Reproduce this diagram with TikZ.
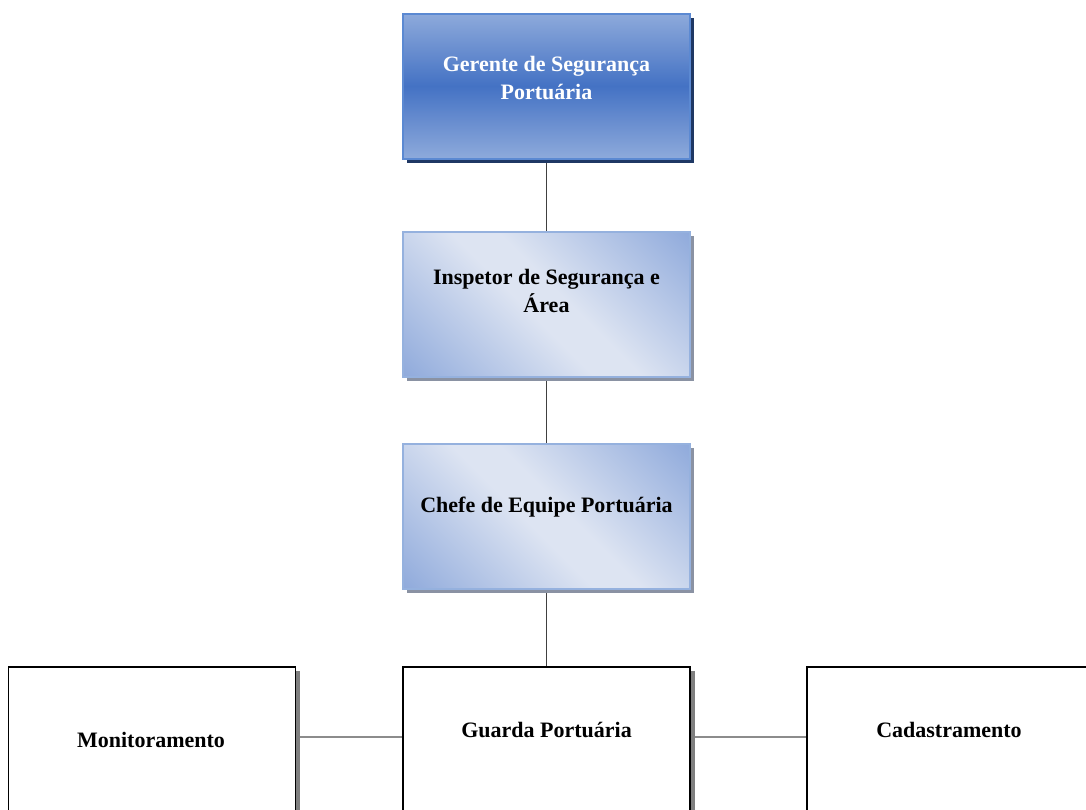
\documentclass[tikz,border=0pt]{standalone}
\usepackage{fontspec}
\setmainfont{Liberation Serif}
\usetikzlibrary{shadows,backgrounds}

\definecolor{hdTop}{HTML}{8EAADB}
\definecolor{hdMid}{HTML}{4472C4}
\definecolor{hdEdge}{HTML}{5B89D2}
\definecolor{hdShadow}{HTML}{1F3864}
\definecolor{lvDark}{HTML}{8EA9DB}
\definecolor{lvLight}{HTML}{DDE4F2}
\definecolor{lvEdge}{HTML}{95B1DE}
\definecolor{lvShadow}{HTML}{8A92A3}
\definecolor{plainShadow}{HTML}{7F7F7F}
\definecolor{linkDark}{HTML}{404040}
\definecolor{linkGray}{HTML}{8C8C8C}

% soft diagonal band: dark corners, light middle
\pgfdeclareverticalshading{levelshade}{100bp}{%
  color(0bp)=(lvDark); color(14bp)=(lvDark); color(46bp)=(lvLight);
  color(54bp)=(lvLight); color(86bp)=(lvDark); color(100bp)=(lvDark)}

\begin{document}
\begin{tikzpicture}[x=0.75pt,y=-0.75pt,
  boxbase/.style={rectangle, inner sep=0pt, minimum width=215.25pt, minimum height=108.75pt},
  headbox/.style={boxbase, draw=hdEdge, line width=1.5pt,
    top color=hdTop, bottom color=hdTop, middle color=hdMid,
    general shadow={fill=hdShadow, shadow xshift=3pt, shadow yshift=-3pt}},
  levelbox/.style={boxbase, draw=lvEdge, line width=1.5pt,
    shading=levelshade, shading angle=-45,
    general shadow={fill=lvShadow, shadow xshift=3pt, shadow yshift=-3pt}},
  plainbox/.style={boxbase, minimum height=112.5pt, draw=black, fill=white, line width=1pt,
    general shadow={fill=plainShadow, shadow xshift=3.5pt, shadow yshift=-3pt}},
  label/.style={font=\fontsize{16.5}{20.5}\selectfont\bfseries, align=center, inner sep=0pt},
  vlink/.style={draw=linkDark, line width=0.6pt},
  hlink/.style={draw=linkGray, line width=0.9pt}]

\useasboundingbox (0,0) rectangle (1086,810);

% hierarchy boxes
\node[headbox]  (gerente)  at (546.5,86)   {};
\node[levelbox] (inspetor) at (546.5,304.5) {};
\node[levelbox] (chefe)    at (546.5,516.5) {};
\node[plainbox] (guarda)   at (546.5,742)  {};
\node[plainbox] (monit)    at (152,742)    {};
\node[plainbox] (cadastro) at (950.5,742)  {};

% box titles
\node[label, text=white] (tGerente)  at (546.5,78)  {Gerente de Segurança\\Portuária};
\node[label] (tInspetor) at (546.5,291) {Inspetor de Segurança e\\Área};
\node[label] (tChefe)    at (546.5,507) {Chefe de Equipe Portuária};
\node[label] (tGuarda)   at (546.5,730) {Guarda Portuária};
\node[label] (tMonit)    at (151,740)   {Monitoramento};
\node[label] (tCadastro) at (949,730)   {Cadastramento};

% connectors behind the boxes
\begin{pgfonlayer}{background}
  \draw[vlink] (gerente) -- (inspetor);
  \draw[vlink] (inspetor) -- (chefe);
  \draw[vlink] (chefe) -- (guarda);
  \draw[hlink] ([yshift=3.75pt]monit.east) -- ([yshift=3.75pt]guarda.west);
  \draw[hlink] ([yshift=3.75pt]guarda.east) -- ([yshift=3.75pt]cadastro.west);
\end{pgfonlayer}
\end{tikzpicture}
\end{document}
